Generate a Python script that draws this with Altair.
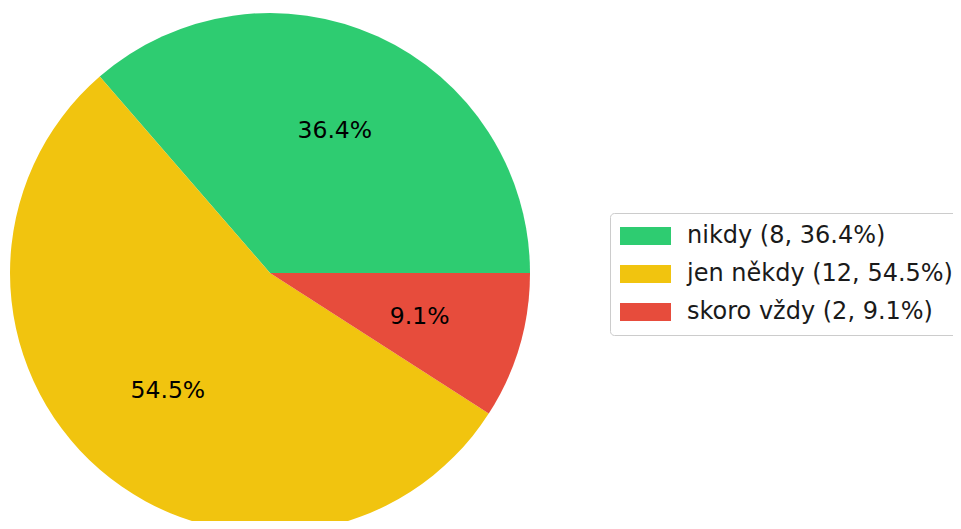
import math
import altair as alt
import pandas as pd

categories = ["nikdy", "jen někdy", "skoro vždy"]
counts = [8, 12, 2]
percents = [36.4, 54.5, 9.1]
colors = ["#2ecc71", "#f1c40f", "#e74c3c"]
stack_order = [3, 2, 1]  # matplotlib counterclockwise from east

legend_labels = [f"{c} ({n}, {p}%)" for c, n, p in zip(categories, counts, percents)]
df = pd.DataFrame({
    "cat": categories,
    "count": counts,
    "pct": [f"{p}%" for p in percents],
    "legend": legend_labels,
    "ord": stack_order,
})

theta_scale = alt.Scale(range=[math.pi / 2, math.pi / 2 + 2 * math.pi])
color_scale = alt.Scale(domain=legend_labels, range=colors)

base = alt.Chart(df).encode(
    theta=alt.Theta("count:Q", stack=True, scale=theta_scale),
    order=alt.Order("ord:Q", sort="ascending"),
)

pie = base.mark_arc(outerRadius=260, stroke=None).encode(
    color=alt.Color(
        "legend:N",
        scale=color_scale,
        sort=legend_labels,
        legend=alt.Legend(
            title=None,
            orient="none",
            legendX=602,
            legendY=205,
            symbolType="M-1.3,-0.9H3.8V0.9H-1.3Z",
            symbolSize=400,
            symbolStrokeWidth=0,
            symbolOpacity=1,
            labelFont="DejaVu Sans",
            labelFontSize=24,
            labelColor="#1a1a1a",
            labelOffset=42,
            rowPadding=14,
            padding=11,
            strokeColor="#cccccc",
            fillColor="white",
            cornerRadius=4,
            labelLimit=500,
        ),
    ),
    x=alt.value(262),
    y=alt.value(265),
)

labels = base.mark_text(
    radius=156,
    font="DejaVu Sans",
    fontSize=23.5,
    color="#000000",
).encode(
    text="pct:N",
    x=alt.value(262),
    y=alt.value(265),
)

chart = (
    alt.layer(pie, labels)
    .properties(width=945, height=513, autosize=alt.AutoSizeParams(type="none"), padding=0)
    .configure_view(stroke=None)
)

chart.save("out.html", embed_options={"renderer": "svg", "actions": False})
